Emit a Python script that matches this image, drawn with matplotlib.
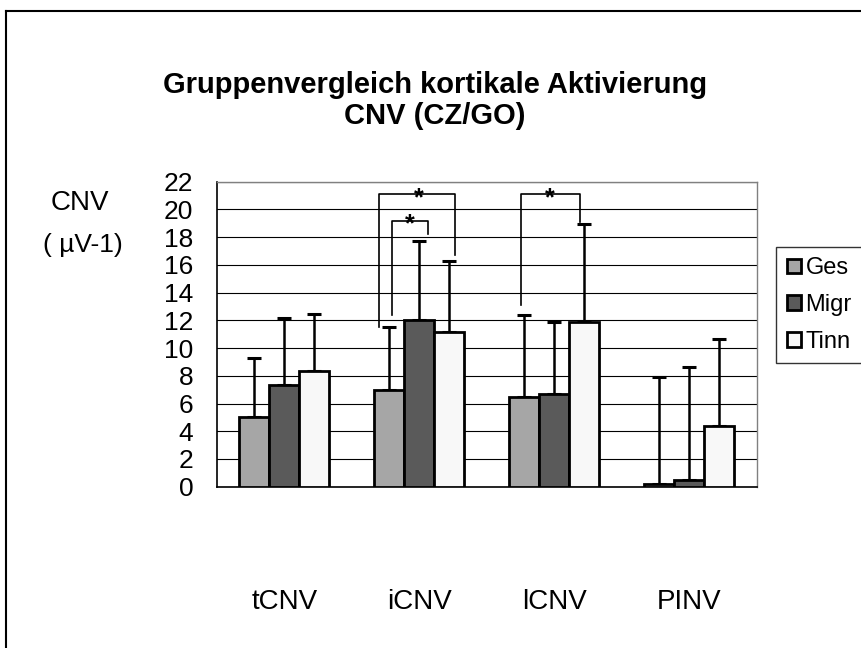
import numpy as np
import matplotlib.pyplot as plt
from matplotlib.patches import Patch
from matplotlib.lines import Line2D

plt.rcParams['font.family'] = ['Liberation Sans', 'DejaVu Sans']

categories = ['tCNV', 'iCNV', 'lCNV', 'PINV']
groups = ['Ges', 'Migr', 'Tinn']
ges = [5.0, 7.0, 6.5, 0.2]
migr = [7.3, 12.0, 6.7, 0.5]
tinn = [8.35, 11.15, 11.85, 4.35]
# nur positive Fehlerbalken (SD)
ges_err = [4.3, 4.5, 5.9, 7.7]
migr_err = [4.85, 5.75, 5.2, 8.15]
tinn_err = [4.1, 5.1, 7.1, 6.3]
colors = ['#a6a6a6', '#5a5a5a', '#f8f8f8']

# Signifikanz-Klammern: x links, x rechts, y links unten, y rechts unten, y oben, x stern
brackets = [
    (0.702, 1.263, 11.55, 16.7, 21.1, 0.996),
    (0.794, 1.061, 12.4, 18.2, 19.2, 0.93),
    (1.752, 2.189, 13.1, 19.1, 21.1, 1.967),
]

fig = plt.figure(figsize=(8.61, 6.48), dpi=100)
ax = fig.add_axes([217/861, 1-486.7/648, 540/861, 305/648])

x = np.arange(len(categories))
w = 1/4.5
data = [(ges, ges_err), (migr, migr_err), (tinn, tinn_err)]
for i, (vals, err) in enumerate(data):
    pos = x + (i-1)*w
    ax.bar(pos, vals, w, color=colors[i], edgecolor='black', linewidth=2.0, zorder=3)
    ax.errorbar(pos, vals, yerr=[np.zeros(len(vals)), err], fmt='none', ecolor='black',
                elinewidth=1.8, capsize=4.7, capthick=2.2, zorder=2)

for xl, xr, yl, yr, yt, xs in brackets:
    ax.plot([xl, xl, xr, xr], [yl, yt, yt, yr], color='black', lw=1.2, zorder=4)
    ax.text(xs, yt - 0.8, '*', ha='center', va='baseline', fontsize=18,
            fontweight='bold', zorder=5)

ax.set_xlim(-0.5, 3.5)
ax.set_ylim(0, 22)
ax.set_yticks(np.arange(0, 23, 2))
ax.set_xticks(x)
ax.set_xticklabels(categories)
ax.yaxis.grid(True, color='black', lw=0.8, zorder=0)
ax.set_axisbelow(True)
ax.tick_params(axis='y', length=0, pad=17, labelsize=19)
ax.tick_params(axis='x', length=0, pad=74, labelsize=20)
for s in ['top', 'right']:
    ax.spines[s].set_color('#808080')
    ax.spines[s].set_linewidth(1.0)
for s in ['left', 'bottom']:
    ax.spines[s].set_color('black')
    ax.spines[s].set_linewidth(1.2)

fig.text(435/861, 1-85/648, 'Gruppenvergleich kortikale Aktivierung', ha='center', va='center',
         fontsize=21, fontweight='bold')
fig.text(435/861, 1-116/648, 'CNV (CZ/GO)', ha='center', va='center',
         fontsize=21, fontweight='bold')
fig.text(80/861, 1-203/648, 'CNV', ha='center', va='center', fontsize=20)
fig.text(83/861, 1-245/648, '( µV-1)', ha='center', va='center', fontsize=19)

handles = [Patch(facecolor=c, edgecolor='black', linewidth=2) for c in colors]
leg = fig.legend(handles, groups, loc='upper left', bbox_to_anchor=(776/861, 1-246.7/648),
                 frameon=True, fancybox=False, fontsize=17, handlelength=0.6, handleheight=0.6,
                 handletextpad=0.2, labelspacing=0.62, borderpad=0.45, borderaxespad=0)
leg.get_frame().set_edgecolor('black')
leg.get_frame().set_linewidth(1.0)

# Rahmen um das Diagramm
fig.add_artist(Line2D([6/861, 6/861], [0, 1-11/648], color='black', lw=1.5))
fig.add_artist(Line2D([6/861, 1], [1-11/648, 1-11/648], color='black', lw=1.5))

fig.savefig('out.png', dpi=100)
